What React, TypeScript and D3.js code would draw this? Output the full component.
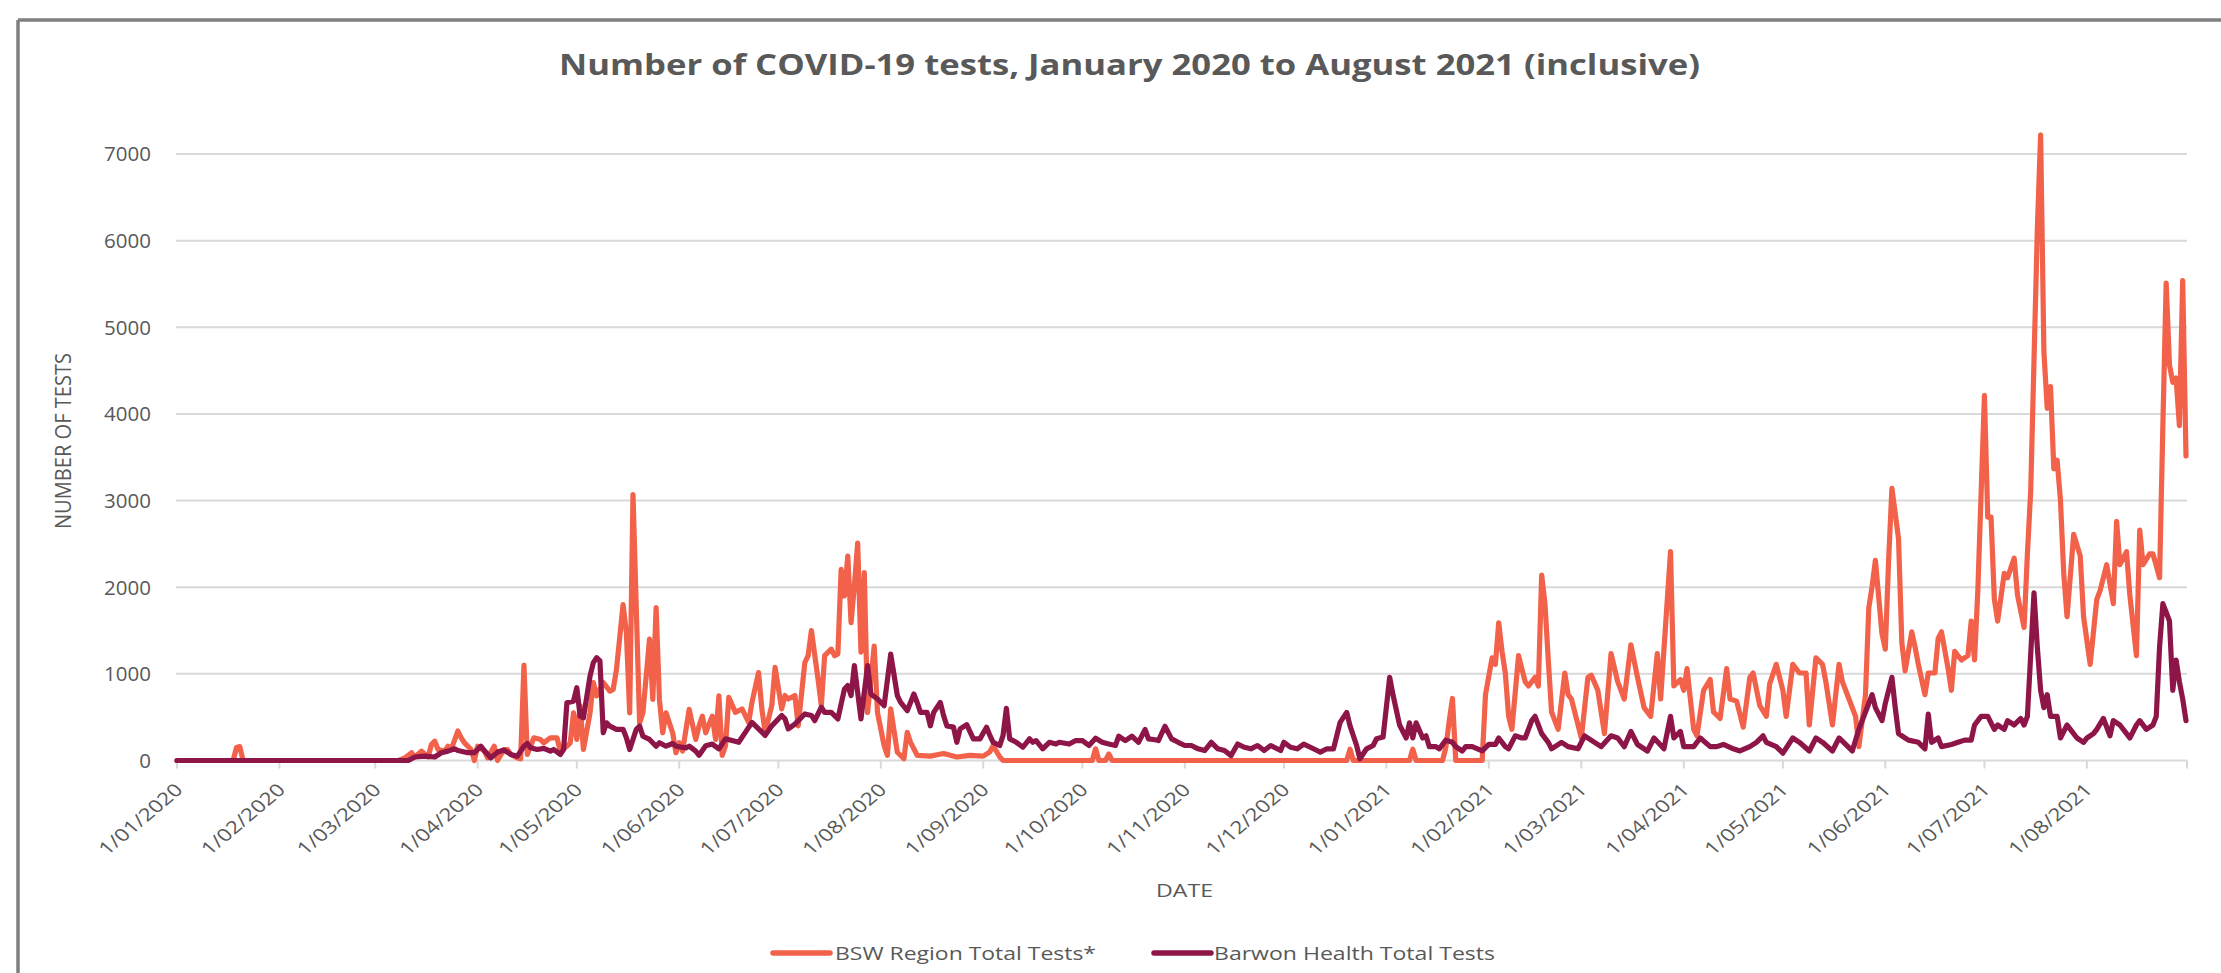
import React, { useEffect } from "react";
import * as d3 from "d3";

const TITLE = "Number of COVID-19 tests, January 2020 to August 2021 (inclusive)";
const Y_TITLE = "NUMBER OF TESTS";
const X_TITLE = "DATE";
const SERIES_NAMES = ["BSW Region Total Tests*", "Barwon Health Total Tests"];
const SERIES_COLORS = ["#F2614A", "#8E1548"];
const Y_TICKS = [0, 1000, 2000, 3000, 4000, 5000, 6000, 7000];
const START_DATE = "2020-01-01";
const END_DATE = "2021-08-31";

// [day offset from 1/01/2020, tests]
const bswPoints: [number, number][] = [
  [0,0],[17,0],[18,150],[19,160],[20,0],[67,0],[69,30],[71,90],[72,40],[74,108],[76,40],[77,185],[78,223],[79,127],[81,108],[82,165],[83,130],[85,340],[86,262],[87,204],[89,127],[90,0],[91,165],[93,108],[94,30],[96,165],[97,0],[99,127],[100,127],[101,70],[103,30],[104,20],[105,1100],[106,70],[108,262],[110,243],[111,204],[113,262],[115,262],[116,108],[118,165],[119,204],[120,550],[121,243],[122,630],[123,127],[125,550],[126,900],[127,745],[129,900],[131,800],[132,820],[133,1050],[135,1800],[136,1475],[137,550],[138,3070],[140,435],[141,550],[143,1400],[144,705],[145,1765],[146,705],[147,320],[148,550],[150,320],[151,90],[152,205],[153,108],[155,590],[156,416],[157,243],[158,400],[159,512],[160,320],[162,512],[163,243],[164,745],[165,60],[166,170],[167,730],[169,555],[171,595],[173,440],[174,670],[176,1015],[177,595],[178,325],[180,633],[181,1075],[183,595],[184,750],[185,710],[187,750],[188,400],[190,1130],[191,1210],[192,1500],[194,940],[195,633],[196,1210],[198,1285],[199,1210],[200,1230],[201,2205],[202,1900],[203,2360],[204,1590],[205,2015],[206,2510],[207,1250],[208,2170],[209,555],[211,1320],[212,555],[214,170],[215,60],[216,595],[218,95],[220,20],[221,325],[222,210],[224,60],[228,50],[232,80],[236,40],[240,60],[244,50],[246,100],[247,170],[249,40],[250,0],[277,0],[278,135],[279,0],[281,0],[282,75],[283,0],[354,0],[355,130],[356,0],[373,0],[374,130],[375,0],[383,0],[384,150],[385,450],[386,716],[387,0],[395,0],
  [396,760],[398,1185],[399,1110],[400,1590],[401,1260],[402,1010],[403,510],[404,360],[406,1210],[408,910],[409,860],[411,960],[412,860],[413,2140],[414,1810],[415,1160],[416,560],[418,360],[420,1010],[421,760],[422,710],[425,260],[427,960],[428,985],[430,810],[432,310],[434,1235],[436,910],[438,710],[440,1335],[442,960],[444,610],[446,510],[448,1235],[449,710],[452,2410],[453,860],[455,935],[456,810],[457,1060],[459,360],[460,285],[462,810],[464,935],[465,560],[467,485],[469,1060],[470,710],[472,685],[474,385],[476,960],[477,1010],[479,635],[481,510],[482,885],[484,1110],[486,810],[487,510],[489,1110],[491,1010],[493,1010],[494,410],[496,1185],[498,1110],[499,910],[501,410],[503,1110],[504,910],[506,710],[508,510],[509,160],[511,760],[512,1760],[513,2010],[514,2310],[516,1460],[517,1285],[518,2310],[519,3140],[521,2560],[522,1360],[523,1035],[525,1485],[526,1310],[527,1110],[529,760],[530,1010],[532,1010],[533,1410],[534,1485],[536,1060],[537,810],[538,1260],[540,1160],[542,1210],[543,1610],[544,1160],[545,1960],[547,4215],[548,2810],[549,2810],[550,1860],[551,1610],[553,2160],[554,2110],[556,2335],[557,1910],[559,1535],[560,2385],[561,3110],[562,4615],[563,6120],[564,7220],[565,4715],[566,4065],[567,4315],[568,3365],[569,3465],[570,3010],[571,2160],[572,1660],[574,2610],[576,2360],[577,1660],[579,1110],[581,1860],[582,1960],[584,2260],[586,1810],[587,2760],[588,2260],[590,2410],[591,1910],[593,1210],[594,2660],[595,2260],[597,2385],[598,2385],[600,2110],[601,3865],[602,5510],[603,4565],[604,4365],[605,4415],[606,3865],[607,5540],[608,3515]
];

const barwonPoints: [number, number][] = [
  [0,0],[70,0],[72,40],[75,50],[78,40],[80,90],[82,108],[84,135],[85,115],[88,90],[90,90],[92,165],[93,115],[95,30],[97,97],[99,120],[101,70],[103,50],[105,165],[106,196],[107,146],[109,127],[111,140],[113,108],[114,127],[116,70],[117,127],[118,666],[120,685],[121,840],[122,512],[123,493],[125,975],[126,1130],[127,1186],[128,1150],[129,320],[130,435],[131,397],[133,360],[135,360],[136,262],[137,127],[139,360],[140,397],[141,280],[143,243],[145,165],[146,205],[148,165],[150,196],[151,165],[154,146],[155,165],[157,108],[158,60],[160,170],[162,190],[164,135],[166,250],[168,230],[170,210],[172,325],[174,440],[176,365],[178,290],[180,400],[183,520],[184,480],[185,365],[187,420],[190,537],[192,520],[193,460],[195,615],[196,555],[198,555],[200,480],[202,825],[203,865],[204,750],[205,1095],[206,785],[207,480],[209,1095],[210,767],[212,710],[214,633],[216,1228],[218,750],[219,670],[221,575],[223,767],[224,670],[225,555],[227,555],[228,400],[229,555],[231,670],[232,518],[233,400],[235,385],[236,210],[237,365],[239,414],[241,250],[243,250],[245,384],[246,290],[247,210],[249,173],[250,290],[251,602],[252,250],[254,210],[256,153],[258,250],[259,210],[260,230],[262,135],[264,210],[266,190],[267,210],[270,190],[272,230],[274,230],[276,173],[278,257],[280,210],[282,190],[284,173],[285,280],[287,230],[289,280],[291,210],[293,357],[294,250],[296,240],[297,230],[299,395],[301,250],[303,210],[305,173],[307,173],[309,135],[311,115],[313,210],[315,135],[317,115],[319,57],[321,190],[323,153],[325,135],[327,173],[329,115],[331,173],[334,115],[335,210],[337,153],[339,135],[341,190],[343,153],[345,115],[346,96],[348,135],[350,135],[352,440],[354,555],[355,400],[357,173],[358,20],[360,135],[362,173],[363,250],[365,270],[367,960],[368,760],[370,410],[372,260],[373,435],[374,260],[375,435],[377,260],[378,285],[379,160],[381,160],[382,135],[384,235],[386,210],[387,160],[389,110],[390,160],[392,160],[395,110],[397,185],[399,185],[400,260],[402,160],[403,135],[405,285],[407,260],[408,260],[410,460],[411,510],[413,310],[415,210],[416,135],[419,210],[421,160],[424,135],[426,285],[429,210],[431,160],[434,285],[436,260],[438,160],[440,335],[442,185],[445,110],[447,260],[450,135],[452,510],[453,260],[455,335],[456,160],[459,160],[461,260],[464,160],[466,160],[468,185],[471,135],[473,110],[476,160],[478,210],[480,285],[481,210],[484,160],[486,85],[489,260],[491,210],[494,110],[496,260],[498,210],[501,110],[503,260],[505,185],[507,110],[509,360],[511,560],[513,760],[514,610],[516,460],[517,660],[519,960],[520,610],[521,310],[523,260],[524,235],[527,210],[529,135],[530,535],[531,210],[533,260],[534,160],[537,185],[539,210],[541,235],[543,235],[544,410],[546,510],[548,510],[550,360],[551,410],[553,360],[554,460],[556,410],[558,485],[559,410],[560,510],[562,1935],[563,1310],[564,810],[565,610],[566,760],[567,510],[569,510],[570,260],[572,410],[573,360],[575,260],[577,210],[578,260],[580,310],[581,360],[583,485],[585,285],[586,460],[588,410],[590,310],[591,260],[593,410],[594,460],[596,360],[598,410],[599,510],[600,1310],[601,1810],[603,1610],[604,810],[605,1160],[606,910],[607,710],[608,460]
];

const W = 2221;
const H = 973;
const FONT = "'Open Sans', 'Liberation Sans', sans-serif";
const TEXT_COLOR = "#595959";
const GRID_COLOR = "#d9d9d9";

export default function App() {
  useEffect(() => {
    document.body.style.margin = "0";
  }, []);

  const start = new Date(START_DATE + "T00:00:00Z");
  const end = new Date(END_DATE + "T00:00:00Z");
  const dayToDate = (d: number) => d3.utcDay.offset(start, d);

  const x = d3.scaleUtc().domain([start, end]).range([177, 2186]);
  const y = d3.scaleLinear().domain([0, 7000]).range([760.5, 154]);

  const line = d3
    .line<[number, number]>()
    .x((p) => x(dayToDate(p[0])))
    .y((p) => y(p[1]));

  const months = d3.utcMonth.range(start, d3.utcDay.offset(end, 1));
  const fmt = d3.utcFormat("%-d/%m/%Y");
  const axisEnd = x.range()[1] + 1;
  const tickXs = [...months.map((m) => x(m)), axisEnd];

  const series = [bswPoints, barwonPoints];

  return (
    <svg
      width={W}
      height={H}
      style={{ position: "absolute", left: 0, top: 0, display: "block", background: "#fff" }}
    >
      <rect x={0} y={0} width={W} height={H} fill="#fff" />
      {/* frame */}
      <line x1={18} y1={20} x2={W + 10} y2={20} stroke="#7f7f7f" strokeWidth={3.5} />
      <line x1={18} y1={20} x2={18} y2={H + 10} stroke="#7f7f7f" strokeWidth={3.5} />

      {/* title */}
      <text
        x={1129.5}
        y={75}
        textAnchor="middle"
        fontFamily={FONT}
        fontWeight="bold"
        fontSize={29}
        fill={TEXT_COLOR}
        textLength={1141}
        lengthAdjust="spacingAndGlyphs"
      >
        {TITLE}
      </text>

      {/* gridlines */}
      {Y_TICKS.map((t) => (
        <line
          key={"g" + t}
          x1={176}
          x2={axisEnd}
          y1={y(t)}
          y2={y(t)}
          stroke={GRID_COLOR}
          strokeWidth={2}
        />
      ))}
      {/* y tick labels */}
      {Y_TICKS.map((t) => (
        <text
          key={"yl" + t}
          x={151}
          y={y(t)}
          dy="0.36em"
          textAnchor="end"
          fontFamily={FONT}
          fontSize={20.5}
          fill={TEXT_COLOR}
        >
          {t}
        </text>
      ))}

      {/* x ticks */}
      {tickXs.map((tx, i) => (
        <line key={"t" + i} x1={tx} x2={tx} y1={y(0)} y2={y(0) + 8} stroke={GRID_COLOR} strokeWidth={2} />
      ))}
      {months.map((m, i) => (
        <text
          key={"xl" + i}
          transform={`translate(${x(m) + 7},${791}) scale(1.18,1) rotate(-45)`}
          textAnchor="end"
          fontFamily={FONT}
          fontSize={17.5}
          fill={TEXT_COLOR}
          textLength={92}
          lengthAdjust="spacingAndGlyphs"
        >
          {fmt(m)}
        </text>
      ))}

      {/* y title */}
      <text
        transform={`translate(71,441) scale(1.18,1) rotate(-90)`}
        textAnchor="middle"
        fontFamily={FONT}
        fontSize={19}
        fill={TEXT_COLOR}
        textLength={176}
        lengthAdjust="spacingAndGlyphs"
      >
        {Y_TITLE}
      </text>
      {/* x title */}
      <text
        x={1184.5}
        y={897}
        textAnchor="middle"
        fontFamily={FONT}
        fontSize={19}
        fill={TEXT_COLOR}
        textLength={57}
        lengthAdjust="spacingAndGlyphs"
      >
        {X_TITLE}
      </text>

      {/* series */}
      {series.map((pts, i) => (
        <path
          key={"s" + i}
          d={line(pts) || ""}
          fill="none"
          stroke={SERIES_COLORS[i]}
          strokeWidth={5.2}
          strokeLinejoin="round"
          strokeLinecap="round"
        />
      ))}

      {/* legend */}
      {[
        { lx: 773, tx: 835, tl: 261 },
        { lx: 1154, tx: 1214, tl: 281 },
      ].map((l, i) => (
        <g key={"lg" + i}>
          <line
            x1={l.lx}
            x2={l.lx + 57}
            y1={953}
            y2={953}
            stroke={SERIES_COLORS[i]}
            strokeWidth={5.5}
            strokeLinecap="round"
          />
          <text
            x={l.tx}
            y={960}
            fontFamily={FONT}
            fontSize={19}
            fill={TEXT_COLOR}
            textLength={l.tl}
            lengthAdjust="spacingAndGlyphs"
          >
            {SERIES_NAMES[i]}
          </text>
        </g>
      ))}
    </svg>
  );
}
